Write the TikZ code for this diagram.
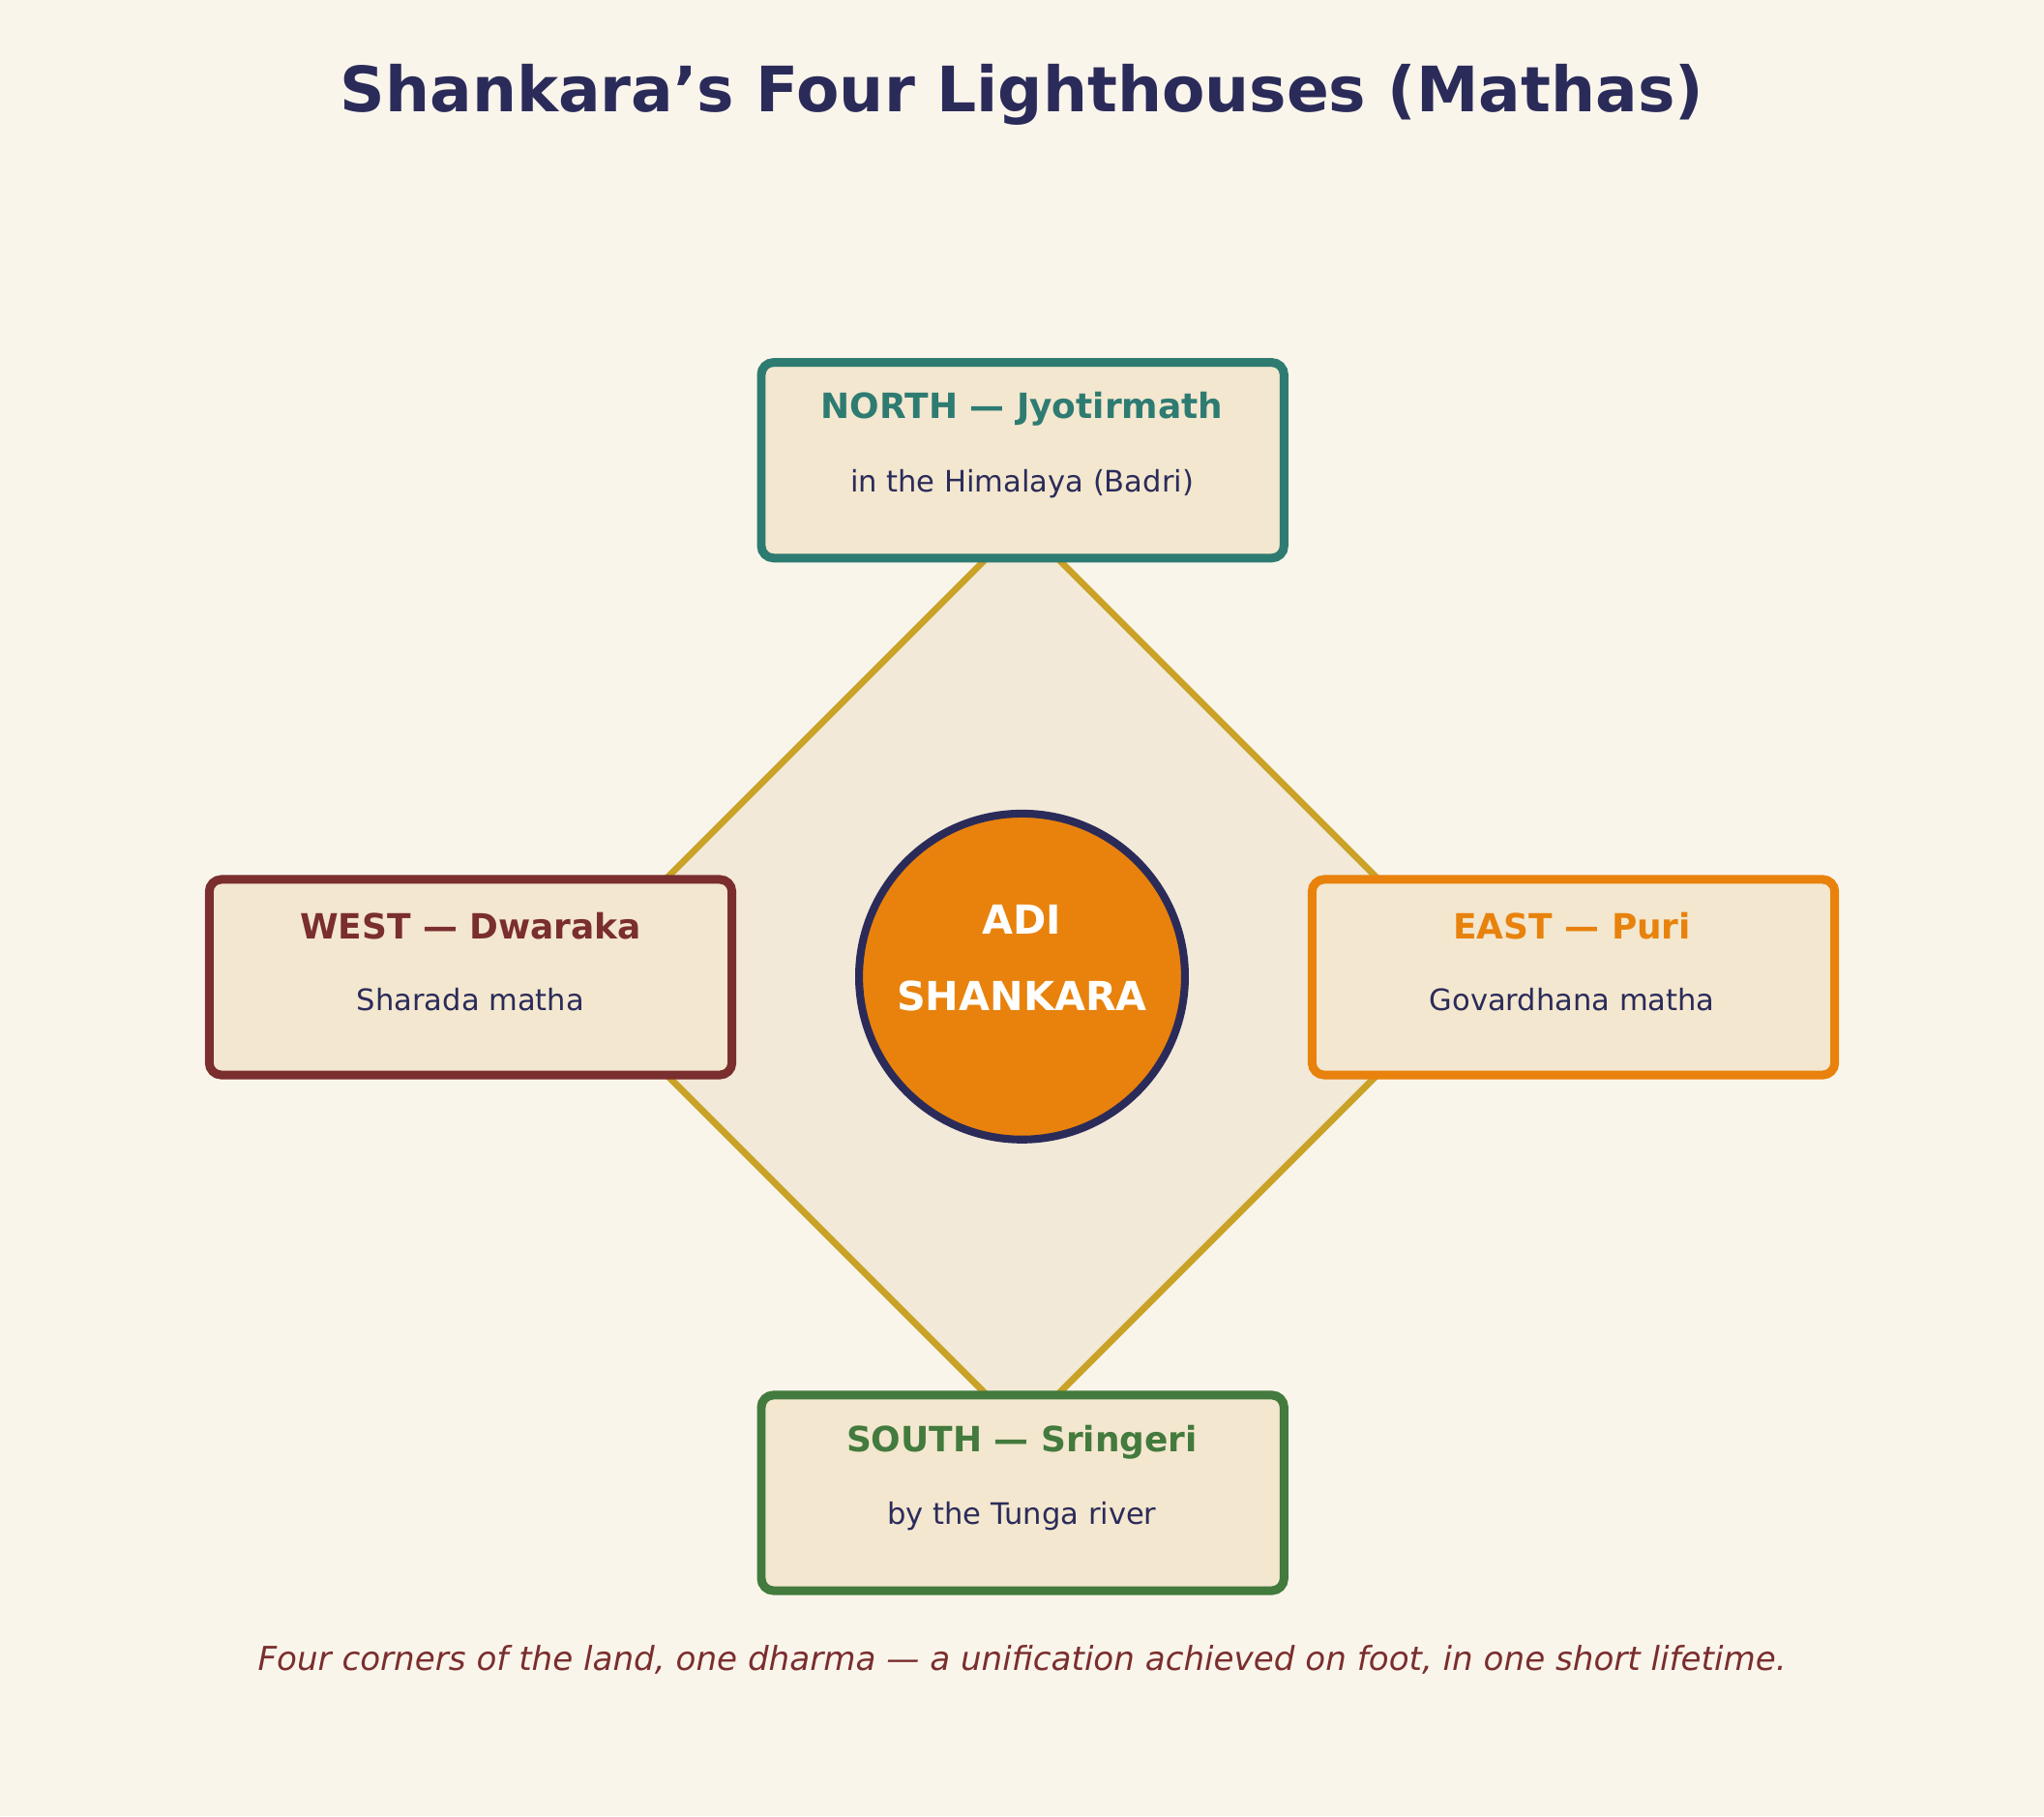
\documentclass[tikz,border=0pt]{standalone}
\usepackage{fontspec}
\setmainfont{DejaVu Sans}
\begin{document}
\definecolor{bg}{HTML}{FAF5EB}
\definecolor{dia}{HTML}{F2E9D8}
\definecolor{gold}{HTML}{C9A227}
\definecolor{boxf}{HTML}{F3E7CF}
\definecolor{navy}{HTML}{2B2B5A}
\definecolor{cn}{HTML}{2E7B72}
\definecolor{cw}{HTML}{7A2E2E}
\definecolor{ce}{HTML}{E8820C}
\definecolor{cs}{HTML}{437A3D}
\begin{tikzpicture}[x=0.75pt,y=-0.75pt,
  box/.style={draw=#1,fill=boxf,line width=5pt,rounded corners=7pt,minimum width=401*0.75pt,minimum height=150*0.75pt},
  hd/.style={font=\bfseries\fontsize{20}{24}\selectfont,text=#1},
  sb/.style={font=\fontsize{17}{20}\selectfont,text=navy}]
\fill[bg] (0,0) rectangle (1568,1393);
\node[font=\bfseries\fontsize{36}{42}\selectfont,text=navy] (title) at (784,73) {Shankara’s Four Lighthouses (Mathas)};
\coordinate (c) at (784,749);
\coordinate (dn) at (784,401);
\coordinate (de) at (1132,749);
\coordinate (ds) at (784,1097);
\coordinate (dw) at (436,749);
\draw[fill=dia,draw=gold,line width=3.8pt] (dn)--(de)--(ds)--(dw)--cycle;
\node[box=cn] (n) at (784.5,353) {};
\node[box=cw] (w) at (361,749.5) {};
\node[box=ce] (e) at (1207,749.5) {};
\node[box=cs] (s) at (784.5,1145) {};
\node[hd=cn] (nh) at (784,314) {NORTH — Jyotirmath};
\node[sb] (ns) at (784,371) {in the Himalaya (Badri)};
\node[hd=cw] (wh) at (361,710) {WEST — Dwaraka};
\node[sb] (ws) at (361,767) {Sharada matha};
\node[hd=ce] (eh) at (1206,710) {EAST — Puri};
\node[sb] (es) at (1206,767) {Govardhana matha};
\node[hd=cs] (sh) at (784,1106) {SOUTH — Sringeri};
\node[sb] (ss) at (784,1163) {by the Tunga river};
\node[circle,fill=ce,draw=navy,line width=4.5pt,minimum size=250*0.75pt] (ctr) at (c) {};
\node[font=\bfseries\fontsize{23}{28}\selectfont,text=white] (a1) at (784,705) {ADI};
\node[font=\bfseries\fontsize{23}{28}\selectfont,text=white] (a2) at (784,764) {SHANKARA};
\node[font=\itshape\fontsize{19}{23}\selectfont,text=cw] (cap) at (784,1273) {Four corners of the land, one dharma — a unification achieved on foot, in one short lifetime.};
\end{tikzpicture}
\end{document}
